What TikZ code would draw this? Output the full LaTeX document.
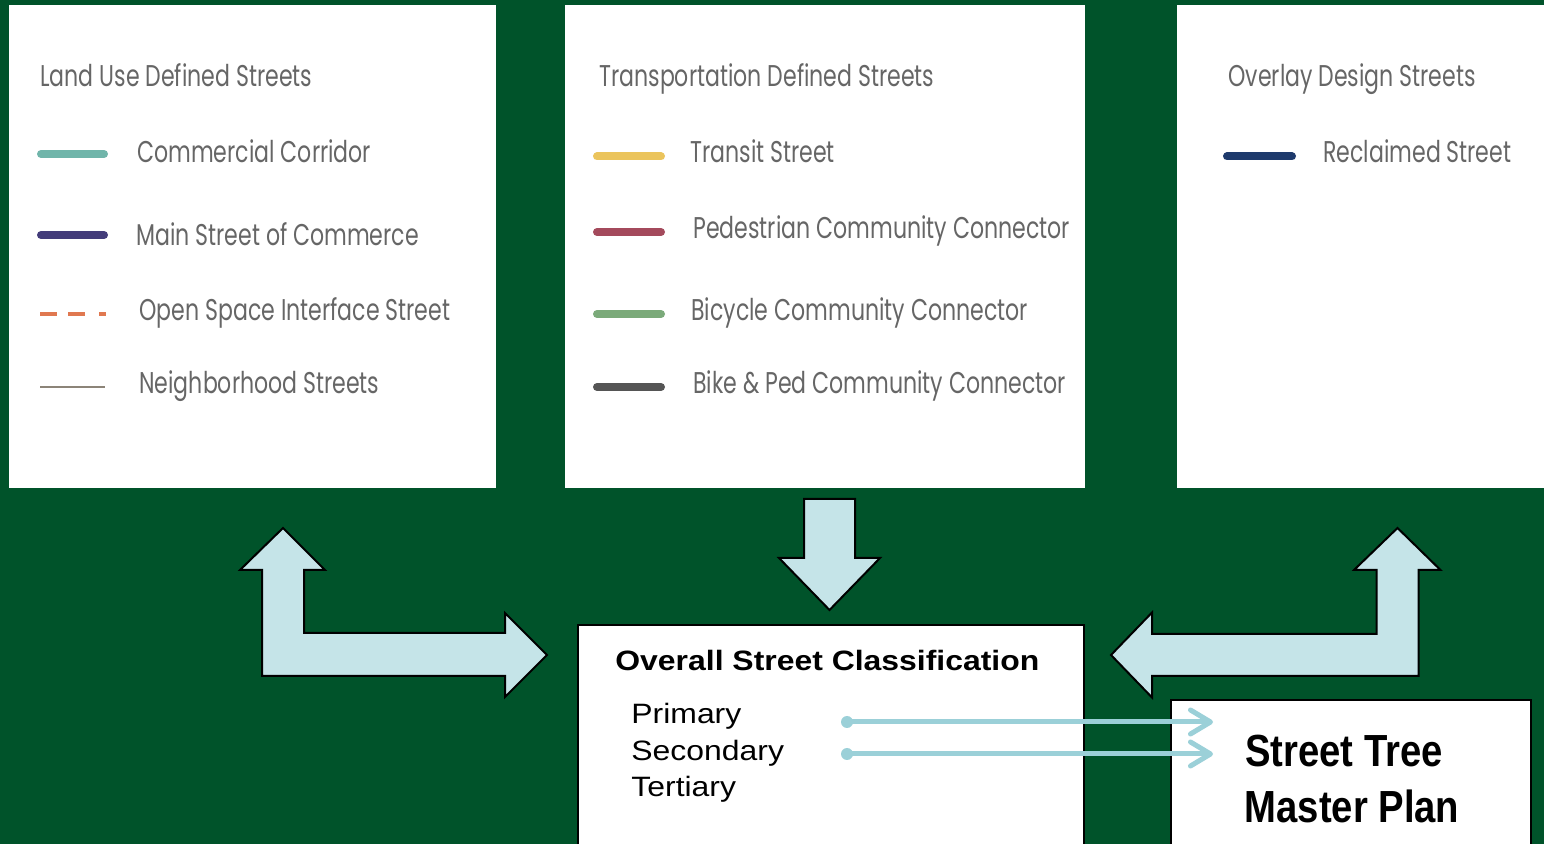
\documentclass[tikz,border=0pt]{standalone}
\usepackage{fontspec}
\setmainfont{Liberation Sans}
\newfontfamily\legfont[FakeStretch=0.735]{Poppins}
\newfontfamily\boxfont[FakeStretch=1.14]{Liberation Sans}
\newfontfamily\mpfont[FakeStretch=0.85]{Liberation Sans}
\usetikzlibrary{arrows.meta}
\definecolor{bggreen}{HTML}{00532A}
\definecolor{blockfill}{HTML}{C5E4E8}
\definecolor{thinblue}{HTML}{9BD0D8}
\definecolor{legtext}{HTML}{666666}
\definecolor{cteal}{HTML}{70B5AA}
\definecolor{cpurple}{HTML}{433C7A}
\definecolor{corange}{HTML}{E07850}
\definecolor{cneigh}{HTML}{8C8478}
\definecolor{cyellow}{HTML}{EBC45C}
\definecolor{cmaroon}{HTML}{A44A5C}
\definecolor{cgreen}{HTML}{7BAA7A}
\definecolor{cdgray}{HTML}{555555}
\definecolor{cnavy}{HTML}{1E3A6C}
\begin{document}
\begin{tikzpicture}[x=0.5pt,y=-0.5pt,
  panel/.style={fill=white, draw=none, anchor=north west, inner sep=0pt},
  legtxt/.style={anchor=base west, inner sep=0pt, text=legtext, font=\legfont\fontsize{15}{18}\selectfont},
  legline/.style={line width=4pt, line cap=round},
  blockarrow/.style={fill=blockfill, draw=black, line width=1pt, line join=miter},
  whitebox/.style={fill=white, draw=black, line width=1pt, anchor=north west, inner sep=0pt},
  clstxt/.style={anchor=base west, inner sep=0pt, font=\boxfont\fontsize{14}{17}\selectfont},
  mptxt/.style={anchor=base, inner sep=0pt, font=\mpfont\bfseries\fontsize{22.5}{27}\selectfont},
  thinarrow/.style={draw=thinblue, line width=2.5pt, line cap=round, -{Straight Barb[length=10pt,width=12pt,line cap=round,line join=round]}}
]
\clip (0,0) rectangle (1544,844);
\fill[bggreen] (0,0) rectangle (1544,844);

% panels
\node[panel, minimum width=243.5pt, minimum height=241.5pt] (pA) at (9,5) {};
\node[panel, minimum width=260pt, minimum height=241.5pt] (pB) at (565,5) {};
\node[panel, minimum width=190pt, minimum height=241.5pt] (pC) at (1177,5) {};

% panel A legend
\node[legtxt] (tA) at (40,87) {Land Use Defined Streets};
\draw[legline, cteal] (41,154) -- (104,154);
\node[legtxt] (a1) at (137,163) {Commercial Corridor};
\draw[legline, cpurple] (41,235) -- (104,235);
\node[legtxt] (a2) at (136,246) {Main Street of Commerce};
\draw[corange, line width=2pt] (40,314) -- (57,314) (68,314) -- (85,314) (99,314) -- (106,314);
\node[legtxt] (a3) at (139,320.5) {Open Space Interface Street};
\draw[cneigh, line width=1pt] (40,387) -- (105,387);
\node[legtxt] (a4) at (139,394) {Neighborhood Streets};

% panel B legend
\node[legtxt] (tB) at (599,87) {Transportation Defined Streets};
\draw[legline, cyellow] (597,156.5) -- (661,156.5);
\node[legtxt] (b1) at (690,163) {Transit Street};
\draw[legline, cmaroon] (597,232) -- (661,232);
\node[legtxt] (b2) at (693,239) {Pedestrian Community Connector};
\draw[legline, cgreen] (597,314) -- (661,314);
\node[legtxt] (b3) at (691,320.5) {Bicycle Community Connector};
\draw[legline, cdgray] (597,387) -- (661,387);
\node[legtxt] (b4) at (693,394) {Bike \& Ped Community Connector};

% panel C legend
\node[legtxt] (tC) at (1228,87) {Overlay Design Streets};
\draw[legline, cnavy] (1227,156.5) -- (1292,156.5);
\node[legtxt] (c1) at (1323,163) {Reclaimed Street};

% block arrows
\draw[blockarrow] (283,528) -- (325,570) -- (304,570) -- (304,633) -- (505,633) -- (505,613)
  -- (547,655) -- (505,697) -- (505,676) -- (262,676) -- (262,570) -- (240,570) -- cycle;
\draw[blockarrow] (804,499) -- (855,499) -- (855,558) -- (880,558) -- (829.5,610) -- (779,558) -- (804,558) -- cycle;
\draw[blockarrow] (1397.5,528) -- (1440.5,570) -- (1418.5,570) -- (1418.5,676) -- (1152,676) -- (1152,697.5)
  -- (1111,655) -- (1152,612.5) -- (1152,634) -- (1376.5,634) -- (1376.5,570) -- (1354,570) -- cycle;

% boxes
\node[whitebox, minimum width=253pt, minimum height=130pt] (osc) at (577,624) {};
\node[whitebox, minimum width=180pt, minimum height=90pt] (mp) at (1170,699) {};

\node[clstxt, font=\boxfont\bfseries\fontsize{14}{17}\selectfont] (osct) at (615,670.5) {Overall Street Classification};
\node[clstxt] (prim) at (631,724) {Primary};
\node[clstxt] (sec) at (631,760.5) {Secondary};
\node[clstxt] (ter) at (631,797) {Tertiary};

\node[mptxt] (mp1) at (1344,767) {Street Tree};
\node[mptxt] (mp2) at (1352,822.5) {Master Plan};

% thin arrows
\coordinate (s1) at (847,722);
\coordinate (e1) at (1213,722);
\coordinate (s2) at (847,754);
\coordinate (e2) at (1213,754);
\draw[thinarrow] (s1) -- (e1);
\draw[thinarrow] (s2) -- (e2);
\fill[thinblue] (s1) circle[radius=3pt];
\fill[thinblue] (s2) circle[radius=3pt];
\end{tikzpicture}
\end{document}
